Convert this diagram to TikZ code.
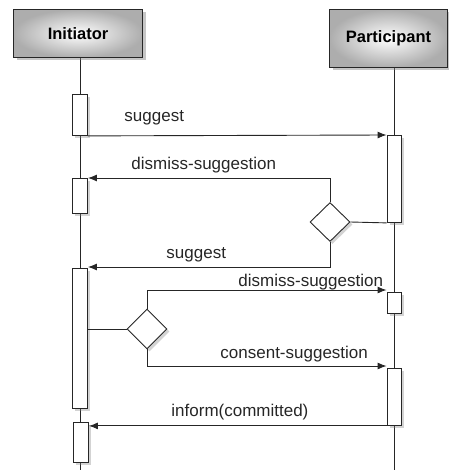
\documentclass[tikz,border=0pt]{standalone}
\usepackage{fontspec}
\setmainfont{Liberation Sans}
\usetikzlibrary{arrows.meta,shapes.geometric,shadows}
\begin{document}
\begin{tikzpicture}[x=1pt,y=-1pt,
  line width=0.9pt, draw=black!85,
  role/.style={draw=black!85, line width=1pt, inner sep=0pt, anchor=north west,
    inner color=white, outer color=black!32,
    drop shadow={opacity=0.45, shadow xshift=3pt, shadow yshift=-3pt},
    font=\fontsize{16.5}{18}\selectfont\bfseries},
  act/.style={draw=black!85, fill=white, inner sep=0pt, minimum width=15pt, anchor=north,
    drop shadow={opacity=0.35, shadow xshift=2.5pt, shadow yshift=-2.5pt}},
  dec/.style={diamond, draw=black!85, fill=white, inner sep=0pt, minimum width=40pt, minimum height=39pt,
    drop shadow={opacity=0.35, shadow xshift=2.5pt, shadow yshift=-2.5pt}},
  msg/.style={-{Latex[length=9pt,width=7pt]}, draw=black!85},
  lbl/.style={anchor=west, inner sep=0pt, text=black!85, font=\fontsize{17}{19}\selectfont}
]
\useasboundingbox (0,0) rectangle (448,470);
% lifelines
\coordinate (iltop) at (80,57);
\coordinate (ilbot) at (80,470);
\coordinate (pltop) at (394,67);
\coordinate (plbot) at (394,470);
\draw (iltop) -- (ilbot);
\draw (pltop) -- (plbot);
% roles
\node[role, minimum width=129pt, minimum height=48pt] (ini) at (13,9) {Initiator};
\node[role, minimum width=118pt, minimum height=58pt] (par) at (329,9) {Participant};
% activations
\node[act, minimum height=41pt] (i1) at (80,94) {};
\node[act, minimum height=35pt] (i2) at (80,178) {};
\node[act, minimum height=140pt] (i3) at (80,268) {};
\node[act, minimum height=40pt] (i4) at (81,422) {};
\node[act, minimum width=14pt, minimum height=87pt] (p1) at (394,135) {};
\node[act, minimum width=14pt, minimum height=21pt] (p2) at (394,292) {};
\node[act, minimum width=14pt, minimum height=57pt] (p3) at (394,368) {};
% decisions
\node[dec] (d1) at (330,222) {};
\node[dec, minimum height=40pt] (d2) at (147,329) {};
% messages
\draw[msg] (i1.south east) -- (p1.north west);
\draw[msg] (d1.north) |- (i2.north east);
\draw (d1.east) -- (p1.south west);
\draw[msg] (d1.south) |- ([yshift=1pt]i3.north east);
\draw (d2.west) -- (d2.west -| i3.east);
\draw[msg] (d2.north) |- ([yshift=2pt]p2.north west);
\draw[msg] (d2.south) |- ([yshift=2pt]p3.north west);
\draw[msg] (p3.south west) -- (p3.south west -| i4.east);
% labels
\node[lbl] (l1) at (124,118) {suggest};
\node[lbl] (l2) at (131,165) {dismiss-suggestion};
\node[lbl] (l3) at (166,255) {suggest};
\node[lbl] (l4) at (238,282) {dismiss-suggestion};
\node[lbl] (l5) at (220,354) {consent-suggestion};
\node[lbl] (l6) at (171,412) {inform(committed)};
\end{tikzpicture}
\end{document}
